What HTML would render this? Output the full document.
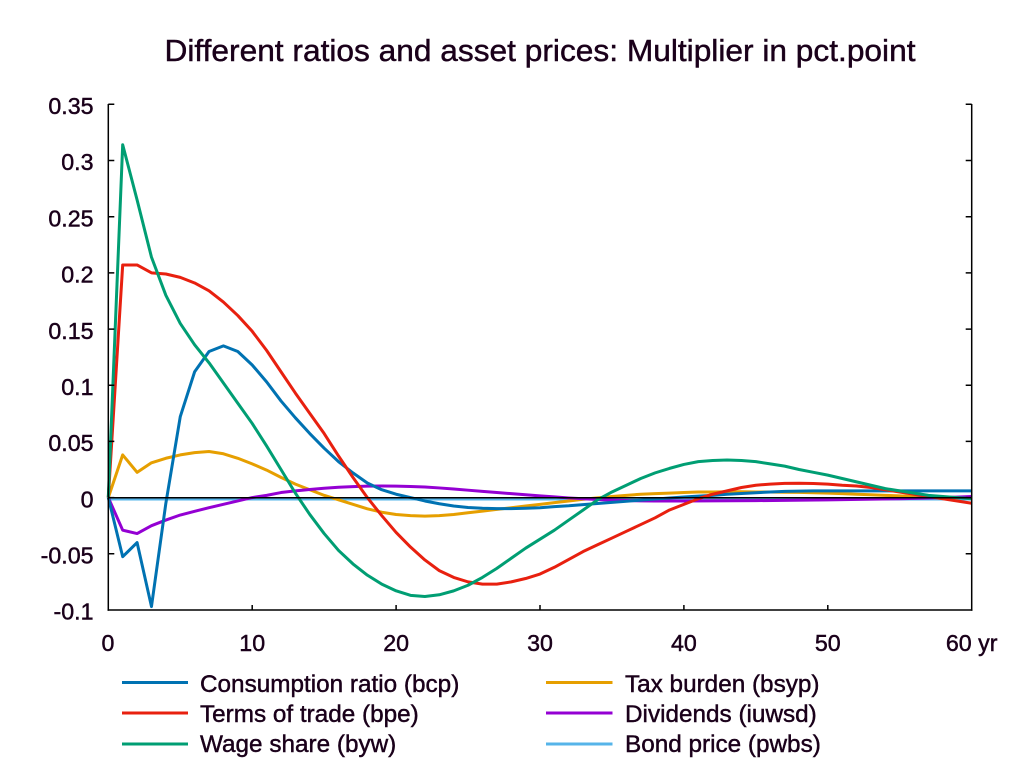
<!DOCTYPE html>
<html>
<head>
<meta charset="utf-8">
<style>
html,body{margin:0;padding:0;background:#fff;}
svg{display:block;}
text{font-family:"Liberation Sans",Arial,sans-serif;fill:#1a001a;stroke:#1a001a;stroke-width:0.45;}
</style>
</head>
<body>
<svg width="1024" height="778" viewBox="0 0 1024 778" xmlns="http://www.w3.org/2000/svg">
<rect x="0" y="0" width="1024" height="778" fill="#fff"/>
<text x="540" y="61" font-size="31" text-anchor="middle" textLength="751" lengthAdjust="spacingAndGlyphs">Different ratios and asset prices: Multiplier in pct.point</text>

<!-- series -->
<g transform="translate(108.3,497.6) scale(14.39,-1123.7)" fill="none" stroke-linejoin="round">
<polyline vector-effect="non-scaling-stroke" stroke="#56b4e9" stroke-width="2.5" points="0,-0.0015 60,-0.0015"/>
<polyline vector-effect="non-scaling-stroke" stroke="#e69f00" stroke-width="3" points="0,0 1,0.038 2,0.0225 3,0.031 4,0.035 5,0.038 6,0.040 7,0.041 8,0.039 9,0.035 10,0.030 11,0.0245 12,0.018 13,0.012 14,0.007 15,0.002 16,-0.002 17,-0.006 18,-0.010 19,-0.013 20,-0.015 21,-0.016 22,-0.0165 23,-0.016 24,-0.015 25,-0.0135 26,-0.012 27,-0.0105 28,-0.009 29,-0.0075 30,-0.006 31,-0.0045 32,-0.003 33,-0.0015 34,-0.0002 35,0.001 36,0.002 37,0.003 38,0.0035 39,0.004 40,0.0045 41,0.005 42,0.005 43,0.0052 44,0.0052 45,0.005 46,0.005 47,0.0048 48,0.0047 49,0.0043 50,0.004 51,0.0035 52,0.003 53,0.0025 54,0.002 55,0.0015 56,0.001 57,0.001 58,0.0005 59,0 60,0"/>
<polyline vector-effect="non-scaling-stroke" stroke="#9400d3" stroke-width="3" points="0,0 1,-0.029 2,-0.032 3,-0.025 4,-0.020 5,-0.0155 6,-0.0122 7,-0.009 8,-0.006 9,-0.003 10,0 11,0.002 12,0.0045 13,0.006 14,0.0072 15,0.0083 16,0.0092 17,0.0098 18,0.0102 19,0.0103 20,0.0102 21,0.0099 22,0.0094 23,0.0086 24,0.0077 25,0.0066 26,0.0055 27,0.0045 28,0.0035 29,0.0025 30,0.0015 31,0.0006 32,-0.0003 33,-0.001 34,-0.0017 35,-0.0022 36,-0.0026 37,-0.0029 38,-0.003 40,-0.003 45,-0.0027 50,-0.002 55,-0.001 58,0 60,0.001"/>
<polyline vector-effect="non-scaling-stroke" stroke="#0072b2" stroke-width="3" points="0,0 1,-0.0526 2,-0.040 3,-0.097 4,-0.005 5,0.072 6,0.112 7,0.130 8,0.135 9,0.130 10,0.118 11,0.103 12,0.086 13,0.071 14,0.057 15,0.044 16,0.032 17,0.022 18,0.013 19,0.007 20,0.003 21,0 22,-0.003 23,-0.0055 24,-0.0075 25,-0.0088 26,-0.0095 27,-0.0098 28,-0.0098 29,-0.0095 30,-0.009 31,-0.008 32,-0.0073 33,-0.0063 34,-0.0053 35,-0.0043 36,-0.0033 37,-0.0023 38,-0.0013 39,-0.0004 40,0.0005 41,0.0013 42,0.002 43,0.003 44,0.0037 45,0.0043 46,0.005 47,0.0055 48,0.0058 49,0.006 50,0.006 60,0.006"/>
<polyline vector-effect="non-scaling-stroke" stroke="#e8200f" stroke-width="3" points="0,0 1,0.207 2,0.207 3,0.200 4,0.199 5,0.196 6,0.191 7,0.184 8,0.174 9,0.162 10,0.148 11,0.131 12,0.112 13,0.093 14,0.075 15,0.057 16,0.037 17,0.018 18,0 19,-0.016 20,-0.031 21,-0.044 22,-0.0555 23,-0.065 24,-0.071 25,-0.075 26,-0.077 27,-0.077 28,-0.075 29,-0.072 30,-0.068 31,-0.062 32,-0.055 33,-0.048 34,-0.042 35,-0.036 36,-0.030 37,-0.024 38,-0.018 39,-0.011 40,-0.006 41,-0.001 42,0.003 43,0.006 44,0.009 45,0.011 46,0.012 47,0.0127 48,0.0128 49,0.0125 50,0.012 51,0.011 52,0.0103 53,0.009 54,0.007 55,0.005 56,0.003 57,0.001 58,-0.001 59,-0.003 60,-0.005"/>
<polyline vector-effect="non-scaling-stroke" stroke="#009e73" stroke-width="3" points="0,0 1,0.314 2,0.265 3,0.214 4,0.18 5,0.155 6,0.136 7,0.12 8,0.102 9,0.084 10,0.066 11,0.046 12,0.025 13,0.004 14,-0.015 15,-0.032 16,-0.047 17,-0.059 18,-0.069 19,-0.077 20,-0.083 21,-0.087 22,-0.088 23,-0.0865 24,-0.083 25,-0.078 26,-0.071 27,-0.063 28,-0.054 29,-0.045 30,-0.037 31,-0.029 32,-0.020 33,-0.011 34,-0.002 35,0.005 36,0.011 37,0.017 38,0.022 39,0.026 40,0.0295 41,0.032 42,0.033 43,0.0335 44,0.033 45,0.032 46,0.030 47,0.028 48,0.025 49,0.0225 50,0.020 51,0.017 52,0.014 53,0.011 54,0.008 55,0.006 56,0.004 57,0.002 58,0.001 59,0 60,-0.001"/>
</g>
<!-- zero line -->
<line x1="108.3" y1="497.8" x2="971.7" y2="497.8" stroke="#000" stroke-width="1.5"/>

<!-- axes -->
<g stroke="#000" stroke-width="1.5" fill="none">
<line x1="108.3" y1="104" x2="108.3" y2="610.7"/>
<line x1="971.7" y1="104" x2="971.7" y2="610.7"/>
<line x1="107.5" y1="610" x2="972.5" y2="610"/>
<path d="M108.3 104.3h6 M108.3 160.5h6 M108.3 216.7h6 M108.3 272.9h6 M108.3 329.1h6 M108.3 385.2h6 M108.3 441.4h6 M108.3 497.6h6 M108.3 553.8h6"/>
<path d="M971.7 104.3h-6 M971.7 160.5h-6 M971.7 216.7h-6 M971.7 272.9h-6 M971.7 329.1h-6 M971.7 385.2h-6 M971.7 441.4h-6 M971.7 497.6h-6 M971.7 553.8h-6"/>
<path d="M252.2 610v-5 M396.1 610v-5 M540 610v-5 M683.9 610v-5 M827.8 610v-5"/>
</g>

<!-- y labels -->
<g font-size="23.2" text-anchor="end">
<text x="93.5" y="114">0.35</text>
<text x="93.5" y="170.2">0.3</text>
<text x="93.5" y="226.4">0.25</text>
<text x="93.5" y="282.6">0.2</text>
<text x="93.5" y="338.8">0.15</text>
<text x="93.5" y="394.9">0.1</text>
<text x="93.5" y="451.1">0.05</text>
<text x="93.5" y="507.3">0</text>
<text x="93.5" y="563.5">-0.05</text>
<text x="93.5" y="619.7">-0.1</text>
</g>
<!-- x labels -->
<g font-size="23.2" text-anchor="middle">
<text x="108" y="651">0</text>
<text x="252.2" y="651">10</text>
<text x="396.1" y="651">20</text>
<text x="540" y="651">30</text>
<text x="683.9" y="651">40</text>
<text x="827.8" y="651">50</text>
<text x="971.7" y="651">60 yr</text>
</g>

<!-- legend -->
<g stroke-width="3">
<line x1="122" y1="682.5" x2="188" y2="682.5" stroke="#0072b2"/>
<line x1="122" y1="713" x2="188" y2="713" stroke="#e8200f"/>
<line x1="122" y1="744" x2="188" y2="744" stroke="#009e73"/>
<line x1="546" y1="682.5" x2="612.5" y2="682.5" stroke="#e69f00"/>
<line x1="546" y1="713" x2="612.5" y2="713" stroke="#9400d3"/>
<line x1="546" y1="744" x2="612.5" y2="744" stroke="#56b4e9"/>
</g>
<g font-size="24.3">
<text x="200" y="692">Consumption ratio (bcp)</text>
<text x="200" y="722">Terms of trade (bpe)</text>
<text x="200" y="752">Wage share (byw)</text>
<text x="625" y="692">Tax burden (bsyp)</text>
<text x="625" y="722">Dividends (iuwsd)</text>
<text x="625" y="752">Bond price (pwbs)</text>
</g>
</svg>
</body>
</html>
